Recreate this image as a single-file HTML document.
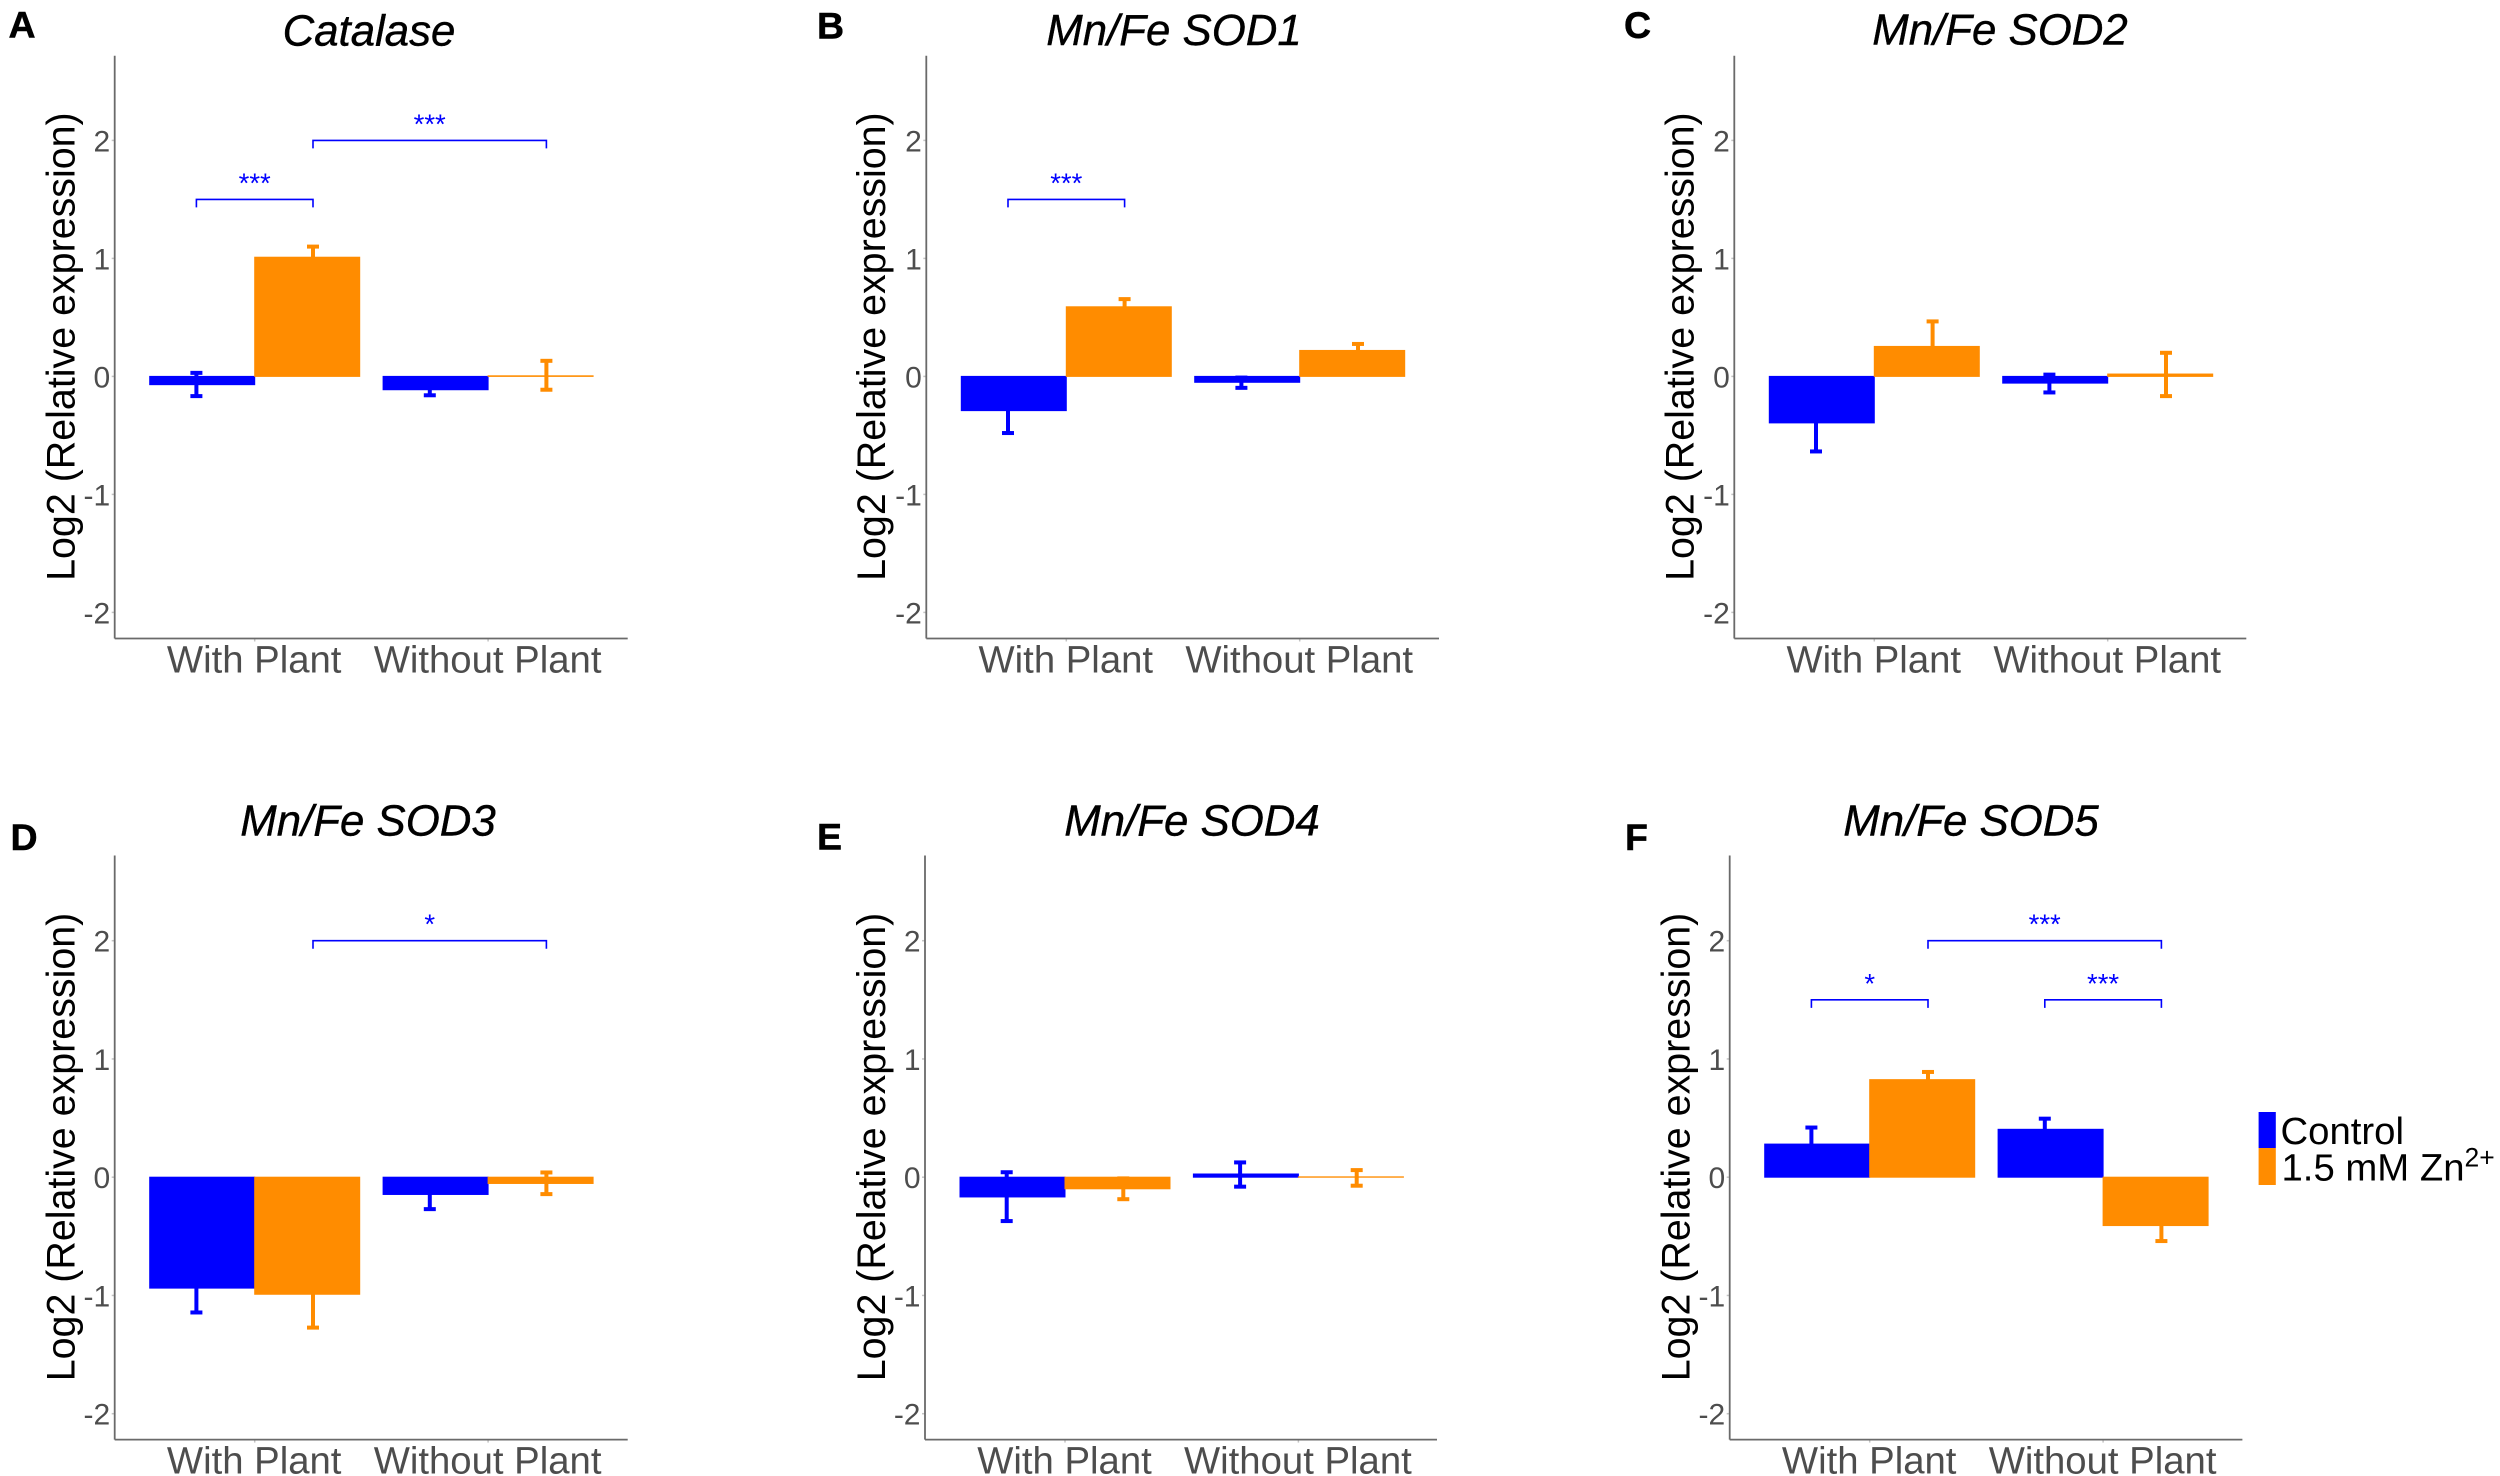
<!DOCTYPE html>
<html lang="en">
<head>
<meta charset="utf-8">
<title>Relative expression of Catalase and Mn/Fe SOD genes</title>
<style>
  html, body { margin: 0; padding: 0; background: #ffffff; }
  svg { display: block; }
  text { font-family: "Liberation Sans", sans-serif; }
</style>
</head>
<body>
<svg id="figure" xmlns="http://www.w3.org/2000/svg" width="2500" height="1476" viewBox="0 0 2500 1476">
  <rect x="0" y="0" width="2500" height="1476" fill="#ffffff"></rect>
  <g id="panels"></g>
  <g>
    <g>
      <rect x="2258.6" y="1112" width="17.2" height="36" fill="#0000ff"></rect>
      <text x="2280.5" y="1144.2" font-size="38.3" fill="#000000">Control</text>
    </g>
    <g>
      <rect x="2258.6" y="1148" width="17.2" height="37" fill="#ff8c00"></rect>
      <text x="2281.5" y="1180.5" font-size="38.3" fill="#000000">1.5 mM Zn<tspan font-size="26.5" dy="-14">2+</tspan></text>
    </g>
  </g>
</svg>
<script>
// ---- shared chart values ----
const categories = ['With Plant', 'Without Plant'];
const seriesNames = ['control', 'zinc'];
const seriesColors = ['#0000ff', '#ff8c00'];
const yTickValues = [-2, -1, 0, 1, 2];
const yAxisTitle = 'Log2 (Relative expression)';
const geneTitles = ['Catalase', 'Mn/Fe SOD1', 'Mn/Fe SOD2', 'Mn/Fe SOD3', 'Mn/Fe SOD4', 'Mn/Fe SOD5'];
const panelLetters = ['A', 'B', 'C', 'D', 'E', 'F'];

// Each series: Control/With, Zn/With, Control/Without, Zn/Without
const catalaseMeans = [-0.07, 1.01, -0.113, 0.005];
const catalaseUpper = [0.03, 1.10, -0.07, 0.132];
const catalaseLower = [-0.167, 0.93, -0.16, -0.113];

const sod1Means = [-0.29, 0.59, -0.05, 0.22];
const sod1Upper = [-0.10, 0.655, -0.01, 0.275];
const sod1Lower = [-0.48, 0.53, -0.097, 0.17];

const sod2Means = [-0.394, 0.254, -0.057, 0.02];
const sod2Upper = [-0.15, 0.466, 0.015, 0.2];
const sod2Lower = [-0.636, 0.05, -0.136, -0.167];

const sod3Means = [-0.938, -0.99, -0.146, -0.053];
const sod3Upper = [-0.73, -0.71, -0.03, 0.04];
const sod3Lower = [-1.144, -1.272, -0.27, -0.143];

const sod4Means = [-0.167, -0.098, 0.027, 0.003];
const sod4Upper = [0.042, -0.01, 0.125, 0.06];
const sod4Lower = [-0.371, -0.186, -0.08, -0.072];

const sod5Means = [0.28, 0.825, 0.405, -0.409];
const sod5Upper = [0.42, 0.89, 0.495, -0.28];
const sod5Lower = [0.15, 0.76, 0.32, -0.54];

const allMeans = [catalaseMeans, sod1Means, sod2Means, sod3Means, sod4Means, sod5Means];
const allUpper = [catalaseUpper, sod1Upper, sod2Upper, sod3Upper, sod4Upper, sod5Upper];
const allLower = [catalaseLower, sod1Lower, sod2Lower, sod3Lower, sod4Lower, sod5Lower];

// Significance brackets: from bar index, to bar index, y level, stars
const catalaseBrackets = [[0, 1, 1.5, '***'], [1, 3, 2, '***']];
const sod1Brackets = [[0, 1, 1.5, '***']];
const sod2Brackets = [];
const sod3Brackets = [[1, 3, 2, '*']];
const sod4Brackets = [];
const sod5Brackets = [[0, 1, 1.5, '*'], [2, 3, 1.5, '***'], [1, 3, 2, '***']];
const allBrackets = [catalaseBrackets, sod1Brackets, sod2Brackets, sod3Brackets, sod4Brackets, sod5Brackets];

// ---- layout (plot frames, not data) ----
const panelFrames = [
  { left: 114.7,  right: 627.7,  top: 55.8,  bottom: 638.5,  zeroY: 376.4,  unit: 118,    titleX: 369,  titleY: 45.5,  letterX: 8.5,  letterY: 37.5, yTitleX: 74.5, yTitleY: 346.6 },
  { left: 926.3,  right: 1439,   top: 55.8,  bottom: 638.5,  zeroY: 376.4,  unit: 118,    titleX: 1174, titleY: 45,    letterX: 817,  letterY: 38.5, yTitleX: 885,  yTitleY: 346.6 },
  { left: 1734.3, right: 2246.3, top: 55.8,  bottom: 638.5,  zeroY: 376.4,  unit: 118,    titleX: 2000, titleY: 44.6,  letterX: 1624, letterY: 38,   yTitleX: 1693.5, yTitleY: 346.6 },
  { left: 114.7,  right: 627.7,  top: 855.5, bottom: 1439.6, zeroY: 1177.2, unit: 118.25, titleX: 368,  titleY: 835.5, letterX: 10.5, letterY: 850,  yTitleX: 74.5, yTitleY: 1147 },
  { left: 925,    right: 1437,   top: 855.5, bottom: 1439.6, zeroY: 1177.2, unit: 118.25, titleX: 1192, titleY: 835.4, letterX: 817,  letterY: 849.7, yTitleX: 885, yTitleY: 1147 },
  { left: 1729.7, right: 2242.4, top: 855.5, bottom: 1439.6, zeroY: 1177.2, unit: 118.25, titleX: 1971, titleY: 835.5, letterX: 1625, letterY: 850,  yTitleX: 1689.5, yTitleY: 1147 }
];
const firstGroupOffset = 140;
const groupSpacing = 233.4;
const barWidth = 105;
const errorOffset = 58.3;
const capWidth = 12;

const SVG_NS = 'http://www.w3.org/2000/svg';
function make(tag, attrs, parent, text) {
  const el = document.createElementNS(SVG_NS, tag);
  Object.keys(attrs).forEach(function (k) { el.setAttribute(k, attrs[k]); });
  if (text !== undefined) el.textContent = text;
  parent.appendChild(el);
  return el;
}

const root = document.getElementById('panels');

geneTitles.forEach(function (gene, p) {
  const f = panelFrames[p];
  const slug = gene.toLowerCase().replace(/[^a-z0-9]+/g, '-');
  const yScale = function (v) { return f.zeroY - v * f.unit; };
  const groupCenter = function (g) { return f.left + firstGroupOffset + g * groupSpacing; };
  const barLeft = function (i) { return groupCenter(Math.floor(i / 2)) + (i % 2 === 0 ? -barWidth : 0); };
  const errorX = function (i) { return groupCenter(Math.floor(i / 2)) + (i % 2 === 0 ? -errorOffset : errorOffset); };

  const panel = make('g', {}, root);
  
  

  const letter = make('text', { x: f.letterX, y: f.letterY, 'font-size': 37.5, 'font-weight': 'bold', fill: '#000000', stroke: '#000000', 'stroke-width': 0.5 }, panel, panelLetters[p]);
  
  

  const title = make('text', { x: f.titleX, y: f.titleY, 'font-size': 43.8, 'font-style': 'italic', 'text-anchor': 'middle', fill: '#000000', stroke: '#000000', 'stroke-width': 0.4 }, panel, gene);
  
  

  const yTitle = make('text', { x: 0, y: 0, 'font-size': 39.4, 'text-anchor': 'middle', fill: '#000000', transform: 'translate(' + f.yTitleX + ' ' + f.yTitleY + ') rotate(-90)' }, panel, yAxisTitle);
  
  

  // y ticks
  yTickValues.forEach(function (t) {
    const tick = make('line', { x1: f.left - 3, x2: f.left, y1: yScale(t), y2: yScale(t), stroke: '#c4c4c4', 'stroke-width': 1.5 }, panel);
    
    
    const label = make('text', { x: f.left - 4.5, y: yScale(t) + 11, 'font-size': 30, 'text-anchor': 'end', fill: '#4d4d4d' }, panel, String(t));
    
    
  });

  // x ticks
  categories.forEach(function (c, g) {
    const tick = make('line', { x1: groupCenter(g), x2: groupCenter(g), y1: f.bottom, y2: f.bottom + 3, stroke: '#c4c4c4', 'stroke-width': 1.5 }, panel);
    
    
    const label = make('text', { x: groupCenter(g) - 0.5, y: f.bottom + 34, 'font-size': 38.3, 'text-anchor': 'middle', fill: '#4d4d4d' }, panel, c);
    
    
  });

  // error bars and bars
  allMeans[p].forEach(function (m, i) {
    const color = seriesColors[i % 2];
    const barName = seriesNames[i % 2] + '-' + (i < 2 ? 'with-plant' : 'without-plant');

    const errorGroup = make('g', { stroke: color, 'stroke-width': 4, fill: 'none' }, panel);
    
    
    const ex = errorX(i);
    const yu = yScale(allUpper[p][i]);
    const yl = yScale(allLower[p][i]);
    make('line', { x1: ex, x2: ex, y1: yu, y2: yl }, errorGroup);
    make('line', { x1: ex - capWidth / 2, x2: ex + capWidth / 2, y1: yu, y2: yu }, errorGroup);
    make('line', { x1: ex - capWidth / 2, x2: ex + capWidth / 2, y1: yl, y2: yl }, errorGroup);

    const y0 = yScale(0);
    const yv = yScale(m);
    const bar = make('rect', { x: barLeft(i), y: Math.min(y0, yv), width: barWidth, height: Math.abs(yv - y0), fill: color, stroke: color, 'stroke-width': 1 }, panel);
    
    
  });

  // significance brackets
  allBrackets[p].forEach(function (b) {
    const x1 = errorX(b[0]);
    const x2 = errorX(b[1]);
    const yb = yScale(b[2]);
    const bracket = make('path', { d: 'M' + x1 + ' ' + (yb + 8) + 'V' + yb + 'H' + x2 + 'V' + (yb + 8), fill: 'none', stroke: '#0000ff', 'stroke-width': 1.6 }, panel);
    
    
    const stars = make('text', { x: (x1 + x2) / 2, y: yb - 7, 'font-size': 27.5, 'text-anchor': 'middle', fill: '#0000ff' }, panel, b[3]);
    
    
  });

  // axis lines
  const yAxis = make('line', { x1: f.left, x2: f.left, y1: f.top, y2: f.bottom, stroke: '#6a6a6a', 'stroke-width': 1.8 }, panel);
  
  
  const xAxis = make('line', { x1: f.left, x2: f.right, y1: f.bottom, y2: f.bottom, stroke: '#6a6a6a', 'stroke-width': 1.8 }, panel);
  
  
});
</script>
</body>
</html>
